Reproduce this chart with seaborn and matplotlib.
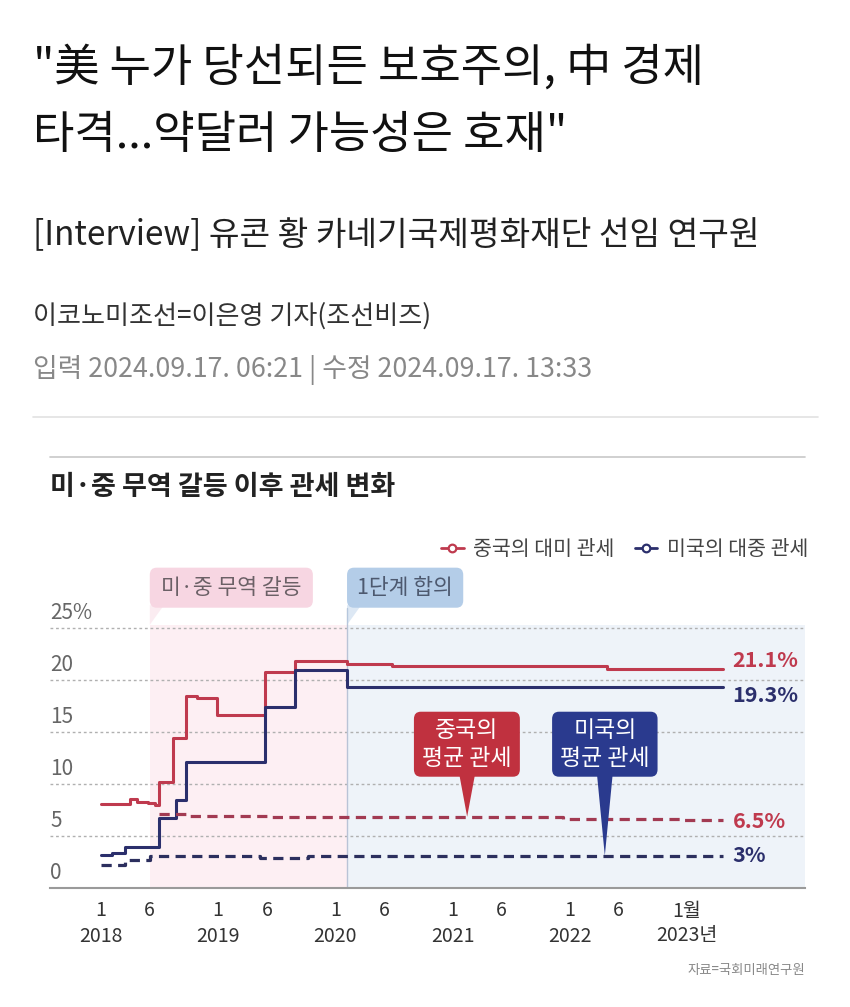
import numpy as np
import pandas as pd
import matplotlib
matplotlib.use("Agg")
import matplotlib.pyplot as plt
import matplotlib.transforms as mtransforms
from matplotlib.patches import FancyBboxPatch, Polygon, Rectangle
from matplotlib.lines import Line2D
import seaborn as sns

# ---------------- data (x = months since Jan 2018) ----------------
cn_us_months = [0, 3.0, 3.7, 4.8, 5.5, 5.9, 7.4, 8.7, 9.8, 11.9, 16.8, 19.9, 25.2, 29.8, 51.8, 63.7]
cn_us_values = [8.1, 8.6, 8.3, 8.2, 8.0, 10.2, 14.4, 18.5, 18.3, 16.6, 20.8, 21.8, 21.5, 21.3, 21.1, 21.1]

us_cn_months = [0, 1.1, 2.5, 5.9, 7.7, 8.7, 16.8, 19.9, 25.2, 63.7]
us_cn_values = [3.2, 3.4, 3.9, 6.7, 8.5, 12.1, 17.4, 21.0, 19.3, 19.3]

cn_avg_months = [5.9, 9.1, 17.5, 47.3, 59.6, 63.7]
cn_avg_values = [7.1, 6.9, 6.8, 6.6, 6.5, 6.5]

us_avg_months = [0, 2.5, 5.0, 16.3, 21.2, 63.7]
us_avg_values = [2.2, 2.7, 3.1, 2.9, 3.1, 3.1]

end_labels = ["21.1%", "19.3%", "6.5%", "3%"]

tick_months = [0, 5, 12, 17, 24, 29, 36, 41, 48, 53, 60]
tick_labels = ["1\n2018", "6", "1\n2019", "6", "1\n2020", "6", "1\n2021", "6", "1\n2022", "6", "1월\n2023년"]

y_grid = [5, 10, 15, 20, 25]
y_labels = ["0", "5", "10", "15", "20", "25%"]

trade_war_start = 5.0
phase_one = 25.2

legend_labels = ["중국의 대미 관세", "미국의 대중 관세"]

# ---------------- colours ----------------
RED = "#bf3a4e"
NAVY = "#2b2f6c"
RED_D = "#a23a52"
NAVY_D = "#2c2f5e"
PINK_BG = "#fdeff3"
BLUE_BG = "#eef3f9"

sns.set_theme(style="white")
plt.rcParams["font.family"] = ["Noto Sans CJK KR", "DejaVu Sans"]

W, H = 850, 1007
fig = plt.figure(figsize=(W / 100, H / 100), dpi=100)
fig.patch.set_facecolor("white")
PX = mtransforms.Affine2D().scale(1 / 100, -1 / 100).translate(0, H / 100) + fig.dpi_scale_trans

XMIN, XMAX = -5.22, 72.1
YMAX = 31
ax = fig.add_axes([50 / W, 1 - 888 / H, 755 / W, (888 - 565.6) / H])
ax.set_facecolor("white")
ax.set_xlim(XMIN, XMAX)
ax.set_ylim(0, YMAX)

# shading
SH_TOP = 25.3
ax.add_patch(Rectangle((trade_war_start, 0), phase_one - trade_war_start, SH_TOP, fc=PINK_BG, ec="none", zorder=0))
ax.add_patch(Rectangle((phase_one, 0), XMAX - phase_one, SH_TOP, fc=BLUE_BG, ec="none", zorder=0))
ax.plot([phase_one, phase_one], [0, 26.9], color="#b9c3d6", lw=1.0, zorder=0.6)

# grid
ax.set_yticks(y_grid)
ax.set_axisbelow(True)
ax.yaxis.grid(True, color="#b0b0b0", linestyle=(0, (2, 2)), lw=1.0)
ax.xaxis.grid(False)

# lines
sns.lineplot(x=cn_us_months, y=cn_us_values, ax=ax, color=RED, lw=2.2,
             drawstyle="steps-post", sort=False, estimator=None, zorder=3)
sns.lineplot(x=us_cn_months, y=us_cn_values, ax=ax, color=NAVY, lw=2.2,
             drawstyle="steps-post", sort=False, estimator=None, zorder=3)
sns.lineplot(x=cn_avg_months, y=cn_avg_values, ax=ax, color=RED_D, lw=2.3,
             drawstyle="steps-post", sort=False, estimator=None, zorder=3,
             linestyle=(0, (3.2, 2.0)))
sns.lineplot(x=us_avg_months, y=us_avg_values, ax=ax, color=NAVY_D, lw=2.3,
             drawstyle="steps-post", sort=False, estimator=None, zorder=3,
             linestyle=(0, (3.2, 2.0)))

# axes styling
for s in ["top", "right", "left"]:
    ax.spines[s].set_visible(False)
ax.spines["bottom"].set_color("#9a9a9a")
ax.spines["bottom"].set_linewidth(1.5)
ax.set_xticks(tick_months)
ax.set_xticklabels(tick_labels, linespacing=1.25)
ax.tick_params(axis="x", direction="in", length=6, width=1, color="#999999",
               labelsize=14, labelcolor="#333333", pad=9)
ax.tick_params(axis="y", length=0, labelleft=False)
ax.set_xlabel("")
ax.set_ylabel("")

for v, lab in zip([0] + y_grid, y_labels):
    ax.text(XMIN, v + 1.45, lab, ha="left", va="center", fontsize=15, color="#666666")

# end labels
end_x = cn_us_months[-1] + 1.0
lab_kw = dict(fontsize=15.5, fontweight="bold", va="center")
ax.text(end_x, cn_us_values[-1] + 0.8, end_labels[0], color=RED, **lab_kw)
ax.text(end_x, us_cn_values[-1] - 0.8, end_labels[1], color=NAVY, **lab_kw)
ax.text(end_x, cn_avg_values[-1] - 0.1, end_labels[2], color=RED, **lab_kw)
ax.text(end_x, us_avg_values[-1], end_labels[3], color=NAVY, **lab_kw)

# top period boxes
def period_box(x0, w, fc, text, tc):
    ax.add_patch(FancyBboxPatch((x0, 26.95), w, 3.85, boxstyle="round,pad=0,rounding_size=0.7",
                                fc=fc, ec="none", zorder=2))
    ax.add_patch(Polygon([(x0, 27.2), (x0, SH_TOP), (x0 + 1.3, 27.0)], closed=True,
                         fc=fc, ec="none", alpha=0.45, zorder=2))
    ax.text(x0 + w / 2, 28.85, text, ha="center", va="center", fontsize=15.5, color=tc, zorder=3)

period_box(trade_war_start, 16.7, "#f7d6e2", "미·중 무역 갈등", "#6b6066")
period_box(phase_one, 11.9, "#b4cde8", "1단계 합의", "#4d596f")

# callouts
def callout(x0, w, fc, text, tip_x, tip_y):
    y0, h = 10.7, 6.25
    ax.add_patch(FancyBboxPatch((x0, y0), w, h, boxstyle="round,pad=0,rounding_size=0.7",
                                fc=fc, ec="none", zorder=4))
    ax.add_patch(Polygon([(tip_x - 0.8, y0 + 0.2), (tip_x + 0.8, y0 + 0.2), (tip_x, tip_y)],
                         closed=True, fc=fc, ec="none", zorder=4))
    ax.text(x0 + w / 2, y0 + h / 2, text, ha="center", va="center", fontsize=16.5,
            color="white", linespacing=1.3, zorder=5)

callout(32.05, 10.85, "#c0313f", "중국의\n평균 관세", 37.5, cn_avg_values[2] + 0.05)
callout(46.2, 10.8, "#2a3a8e", "미국의\n평균 관세", 51.6, us_avg_values[-1])

# ---------------- header ----------------
fig.text(33, 68, "\"美 누가 당선되든 보호주의, 中 경제", transform=PX, fontsize=32.4,
         color="#111111", va="center", ha="left")
fig.text(33, 135, "타격...약달러 가능성은 호재\"", transform=PX, fontsize=32.4,
         color="#111111", va="center", ha="left")
fig.text(33, 236, "[Interview] 유콘 황 카네기국제평화재단 선임 연구원", transform=PX,
         fontsize=24, color="#222222", va="center", ha="left")
fig.text(33, 316, "이코노미조선=이은영 기자(조선비즈)", transform=PX, fontsize=18.8,
         color="#333333", va="center", ha="left")
fig.text(33, 370, "입력 2024.09.17. 06:21 | 수정 2024.09.17. 13:33", transform=PX, fontsize=19.3,
         color="#888888", va="center", ha="left")
fig.add_artist(Line2D([33, 818], [417, 417], transform=PX, color="#e2e2e2", lw=1.2))
fig.add_artist(Line2D([50, 805], [457, 457], transform=PX, color="#c8c8c8", lw=1.2))
fig.text(50, 487, "미·중 무역 갈등 이후 관세 변화", transform=PX, fontsize=19.5,
         fontweight="bold", color="#222222", va="center", ha="left")

handles = [Line2D([0], [0], color=c, lw=2, marker="o", markersize=5.5,
                  markerfacecolor="white", markeredgewidth=1.6) for c in (RED, NAVY)]
leg = fig.legend(handles, legend_labels, loc="center right", bbox_to_anchor=(808 / W, 1 - 549 / H),
                 ncol=2, frameon=False, fontsize=14.8, handlelength=1.1, handletextpad=0.45,
                 columnspacing=1.0, borderaxespad=0, borderpad=0)
for t in leg.get_texts():
    t.set_color("#444444")

fig.text(805, 970, "자료=국회미래연구원", transform=PX, fontsize=9.6, color="#888888",
         va="center", ha="right")

fig.savefig("out.png", dpi=100, facecolor="white")
